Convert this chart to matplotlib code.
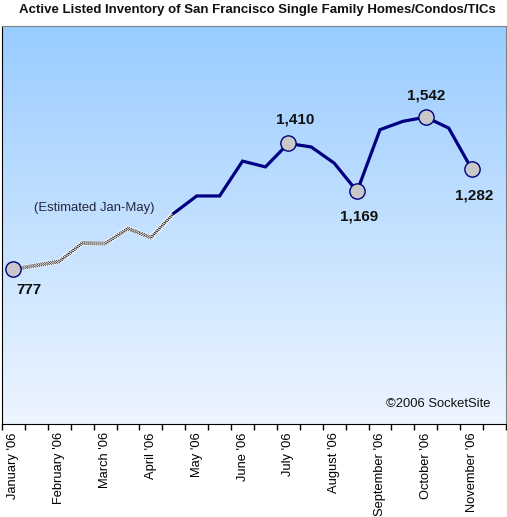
import numpy as np
import matplotlib.pyplot as plt
from matplotlib.colors import LinearSegmentedColormap
from matplotlib.transforms import offset_copy

plt.rcParams['font.family'] = ['Liberation Sans', 'DejaVu Sans']

# half-month periods, Jan '06 .. Nov '06 (22 slots, last one empty)
months = ["January '06", "February '06", "March '06", "April '06", "May '06", "June '06",
          "July '06", "August '06", "September '06", "October '06", "November '06"]
inventory = [777, 797, 817, 909, 907, 982, 937, 1059, 1146, 1146, 1321,
             1292, 1410, 1392, 1311, 1169, 1479, 1521, 1542, 1487, 1282]
n_slots = 22
estimated_until = 7  # index where actual data begins
labelled = {0: (15, -21), 12: (7, 24), 15: (2, -25), 18: (0, 22), 20: (3, -27)}

fig = plt.figure(figsize=(5.07, 5.17), dpi=100)
ax = fig.add_axes([2 / 507, 1 - 424 / 517, 504 / 507, 398 / 517])

x = np.arange(len(inventory)) + 0.5
y = np.array(inventory)

# background gradient
cmap = LinearSegmentedColormap.from_list('bg', ['#EDF5FF', '#99CCFF'])
grad = np.linspace(0, 1, 256).reshape(-1, 1)
ax.imshow(grad, cmap=cmap, aspect='auto', extent=[0, n_slots, 0, 2000],
          origin='lower', zorder=0)

# estimated part: checkered dotted line (white base + rows of 1px dots)
e = estimated_until + 1
ax.plot(x[:e], y[:e], color='white', lw=3.4, zorder=2)
px = 0.72
for k, dy in enumerate([-1.5 * px, -0.5 * px, 0.5 * px, 1.5 * px]):
    tr = offset_copy(ax.transData, fig=fig, y=dy, units='points')
    ax.plot(x[:e], y[:e], color='black', lw=px * 0.8, zorder=3, transform=tr,
            linestyle=(k % 2, (1.25, 1.25)), dash_capstyle='butt')

# actual part
ax.plot(x[estimated_until:], y[estimated_until:], color='#000080', lw=2.3, zorder=4,
        solid_joinstyle='miter')

for i, (dx, dy) in labelled.items():
    ax.plot(x[i], y[i], 'o', ms=11, mfc='#C8C8C8', mec='#000080', mew=1, zorder=5)
    ax.annotate(f'{inventory[i]:,}', (x[i], y[i]), xytext=(dx, dy), textcoords='offset pixels',
                ha='center', va='center', fontsize=11, fontweight='bold', color='#111111')

ax.text(92.5 / 504 * n_slots, 2000 * (424 - 208) / 398, '(Estimated Jan-May)',
        ha='center', va='center', fontsize=9.4, color='#262640')
ax.text(0.97, 0.05, '\u00a92006 SocketSite', transform=ax.transAxes,
        ha='right', va='center', fontsize=9.4, color='#111111')

ax.set_xlim(0, n_slots)
ax.set_ylim(0, 2000)
ax.set_yticks([])
ax.set_xticks(np.arange(0, n_slots + 1))
ax.set_xticklabels([])
ax.set_xticks(np.arange(0, n_slots, 2) + 0.5, minor=True)
ax.set_xticklabels(months, minor=True, rotation=90, fontsize=9.3, va='top')
ax.tick_params(axis='x', which='major', direction='out', length=4, width=1, color='black')
ax.tick_params(axis='x', which='minor', length=0, pad=6)

for side in ['top', 'right']:
    ax.spines[side].set_color('#808080')
for side in ['left', 'bottom']:
    ax.spines[side].set_color('black')

fig.text(257 / 507, 1 - 10 / 517, 'Active Listed Inventory of San Francisco Single Family Homes/Condos/TICs',
         ha='center', va='center', fontsize=9.5, fontweight='bold', color='#111111')

fig.savefig('out.png', dpi=100)
